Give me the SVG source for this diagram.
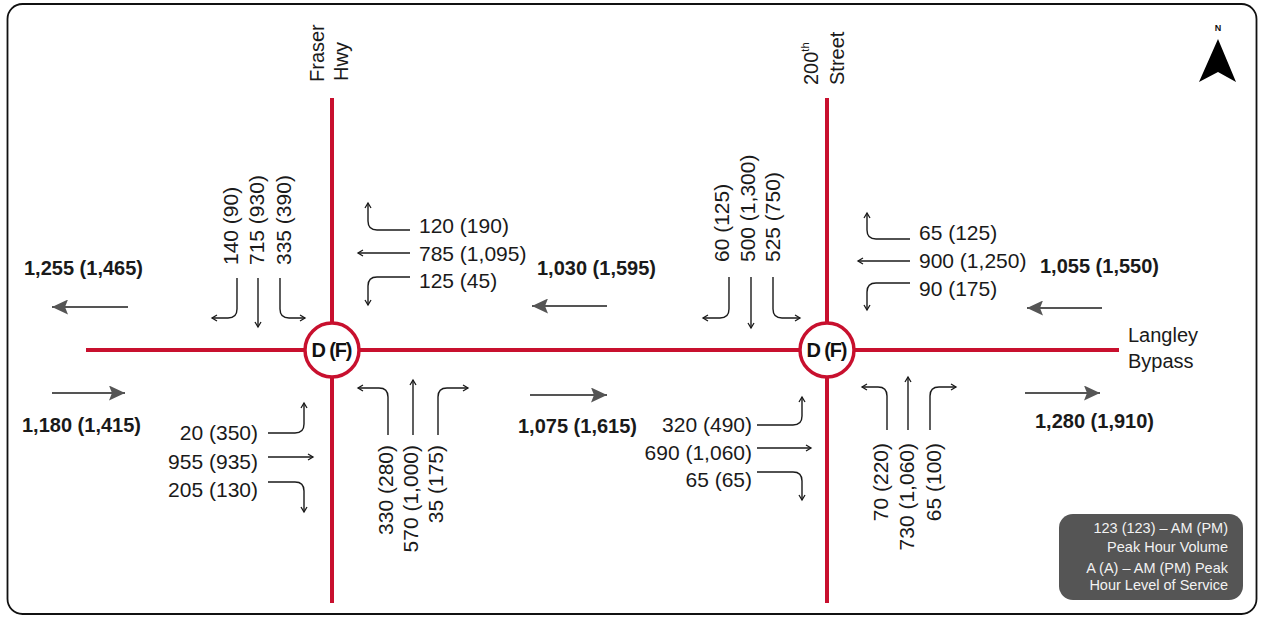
<svg xmlns="http://www.w3.org/2000/svg" width="1261" height="617" viewBox="0 0 1261 617">
<defs>
<style>
.road{stroke:#c8102e;stroke-width:4;fill:none}
.ring{stroke:#c8102e;stroke-width:3.5;fill:#fff}
.los{font-family:"Liberation Sans",Arial,sans-serif;font-weight:bold;font-size:20px;fill:#111;text-anchor:middle}
.vol{font-family:"Liberation Sans",Arial,sans-serif;font-size:21px;fill:#1a1a1a}
.tot{font-family:"Liberation Sans",Arial,sans-serif;font-size:20px;font-weight:bold;fill:#1a1a1a}
.name{font-family:"Liberation Sans",Arial,sans-serif;font-size:20px;fill:#1a1a1a}
.leg{font-family:"Liberation Sans",Arial,sans-serif;font-size:14.5px;fill:#f2f2f2;text-anchor:end}
.mv{stroke:#1a1a1a;stroke-width:1.4;fill:none;marker-end:url(#ah)}
.big{stroke:#555;stroke-width:2;fill:none;marker-end:url(#bh)}
.e{text-anchor:end}
</style>
<marker id="ah" markerUnits="userSpaceOnUse" markerWidth="8" markerHeight="8" refX="6" refY="4" orient="auto">
<path d="M1,1 L6,4 L1,7" fill="none" stroke="#1a1a1a" stroke-width="1.3"/>
</marker>
<marker id="bh" markerUnits="userSpaceOnUse" markerWidth="17" markerHeight="15" refX="16" refY="7.5" orient="auto">
<path d="M0,0 L16,7.5 L0,15 L3,7.5 z" fill="#555"/>
</marker>
</defs>
<rect x="0" y="0" width="1261" height="617" fill="#fff"/>
<rect id="frame" x="7.5" y="4" width="1249" height="610" rx="15" fill="#fff" stroke="#111" stroke-width="1.8"/>

<g id="roads">
<line class="road" x1="86" y1="350" x2="1119" y2="350"/>
<line class="road" x1="332" y1="98" x2="332" y2="603"/>
<line class="road" x1="827" y1="98" x2="827" y2="603"/>
</g>

<g id="road-names">
<text class="name" transform="translate(324,82) rotate(-90)">Fraser</text>
<text class="name" transform="translate(348,81) rotate(-90)">Hwy</text>
<text class="name" transform="translate(818,85) rotate(-90)">200<tspan font-size="11" dy="-9">th</tspan></text>
<text class="name" transform="translate(844,85) rotate(-90)">Street</text>
<text class="name" x="1128" y="342">Langley</text>
<text class="name" x="1128" y="368">Bypass</text>
</g>

<g id="int-fraser">
<circle class="ring" cx="332" cy="350" r="27"/>
<text class="los" x="332" y="357" textLength="41" lengthAdjust="spacing">D (F)</text>
</g>
<g id="int-200th">
<circle class="ring" cx="827" cy="350" r="27"/>
<text class="los" x="827" y="357" textLength="41" lengthAdjust="spacing">D (F)</text>
</g>

<g id="connectors">
<!-- Fraser SB -->
<path class="mv" d="M237,278 V309 Q237,318 228,318 H212"/>
<path class="mv" d="M258,278 V327"/>
<path class="mv" d="M280,278 V309 Q280,318 289,318 H305"/>
<!-- Fraser WB -->
<path class="mv" d="M410,230 H377 Q368,230 368,221 V203"/>
<path class="mv" d="M410,253 H358"/>
<path class="mv" d="M410,277 H377 Q368,277 368,286 V305"/>
<!-- Fraser NB -->
<path class="mv" d="M388,435 V397 Q388,388 379,388 H358"/>
<path class="mv" d="M413,435 V380"/>
<path class="mv" d="M438,435 V397 Q438,388 447,388 H468"/>
<!-- Fraser EB -->
<path class="mv" d="M268,433 H295 Q304,433 304,424 V403"/>
<path class="mv" d="M268,457 H313"/>
<path class="mv" d="M268,482 H295 Q304,482 304,491 V512"/>
<!-- 200th SB -->
<path class="mv" d="M729,277 V309 Q729,318 720,318 H703"/>
<path class="mv" d="M751,277 V328"/>
<path class="mv" d="M773,277 V309 Q773,318 782,318 H800"/>
<!-- 200th WB -->
<path class="mv" d="M910,239 H876 Q867,239 867,230 V213"/>
<path class="mv" d="M910,261 H858"/>
<path class="mv" d="M910,283 H876 Q867,283 867,292 V310"/>
<!-- 200th NB -->
<path class="mv" d="M887,430 V396 Q887,387 878,387 H862"/>
<path class="mv" d="M908,430 V377"/>
<path class="mv" d="M930,430 V396 Q930,387 939,387 H956"/>
<!-- 200th EB -->
<path class="mv" d="M757,425 H793 Q802,425 802,416 V397"/>
<path class="mv" d="M757,448 H811"/>
<path class="mv" d="M757,472 H793 Q802,472 802,481 V500"/>
<!-- link totals -->
<path class="big" d="M128,307 H52"/>
<path class="big" d="M52,393 H125"/>
<path class="big" d="M607,306 H532"/>
<path class="big" d="M530,395 H607"/>
<path class="big" d="M1102,308 H1027"/>
<path class="big" d="M1025,393 H1100"/>
</g>

<g id="volumes-fraser">
<text class="vol" transform="translate(238,265) rotate(-90)">140 (90)</text>
<text class="vol" transform="translate(264,265) rotate(-90)">715 (930)</text>
<text class="vol" transform="translate(291,265) rotate(-90)">335 (390)</text>
<text class="vol" x="419" y="233">120 (190)</text>
<text class="vol" x="419" y="260.5">785 (1,095)</text>
<text class="vol" x="419" y="288">125 (45)</text>
<text class="vol e" transform="translate(393,445) rotate(-90)">330 (280)</text>
<text class="vol e" transform="translate(418,445) rotate(-90)">570 (1,000)</text>
<text class="vol e" transform="translate(443,445) rotate(-90)">35 (175)</text>
<text class="vol e" x="258" y="440">20 (350)</text>
<text class="vol e" x="258" y="469">955 (935)</text>
<text class="vol e" x="258" y="497">205 (130)</text>
</g>

<g id="volumes-200th">
<text class="vol" transform="translate(729,262) rotate(-90)">60 (125)</text>
<text class="vol" transform="translate(755,262) rotate(-90)">500 (1,300)</text>
<text class="vol" transform="translate(780,262) rotate(-90)">525 (750)</text>
<text class="vol" x="919" y="240">65 (125)</text>
<text class="vol" x="919" y="268">900 (1,250)</text>
<text class="vol" x="919" y="296">90 (175)</text>
<text class="vol e" transform="translate(888,443) rotate(-90)">70 (220)</text>
<text class="vol e" transform="translate(914,443) rotate(-90)">730 (1,060)</text>
<text class="vol e" transform="translate(941,443) rotate(-90)">65 (100)</text>
<text class="vol e" x="752" y="432">320 (490)</text>
<text class="vol e" x="752" y="460">690 (1,060)</text>
<text class="vol e" x="752" y="487">65 (65)</text>
</g>

<g id="link-totals">
<text class="tot" x="24" y="275">1,255 (1,465)</text>
<text class="tot" x="22" y="432">1,180 (1,415)</text>
<text class="tot" x="537" y="275">1,030 (1,595)</text>
<text class="tot" x="518" y="433">1,075 (1,615)</text>
<text class="tot" x="1040" y="273">1,055 (1,550)</text>
<text class="tot" x="1035" y="428">1,280 (1,910)</text>
</g>

<g id="north-arrow">
<text x="1218" y="31" font-family="'Liberation Sans',Arial,sans-serif" font-size="9" font-weight="bold" text-anchor="middle" fill="#111">N</text>
<polygon points="1218,39 1236,82 1218,72 1199,82" fill="#000"/>
</g>

<g id="legend">
<rect x="1059" y="514" width="184" height="86" rx="14" fill="#555"/>
<text class="leg" x="1228" y="533">123 (123) – AM (PM)</text>
<text class="leg" x="1228" y="552">Peak Hour Volume</text>
<text class="leg" x="1228" y="573">A (A) – AM (PM) Peak</text>
<text class="leg" x="1228" y="590">Hour Level of Service</text>
</g>
</svg>
